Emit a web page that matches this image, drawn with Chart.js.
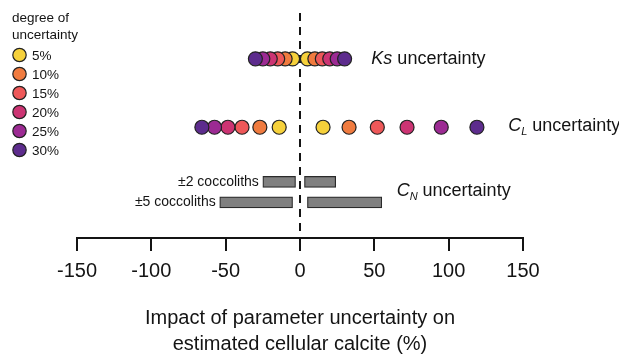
<!DOCTYPE html>
<html>
<head>
<meta charset="utf-8">
<script src="https://cdn.jsdelivr.net/npm/chart.js@4.4.1/dist/chart.umd.min.js"></script>
<style>
  html, body { margin: 0; padding: 0; background: #fff; }
  #wrap { width: 619px; height: 358px; }
</style>
</head>
<body>
<div id="wrap"><canvas id="chart" width="619" height="358"></canvas></div>
<script>
// degree of uncertainty (legend) and its colours
const degrees = ['5%', '10%', '15%', '20%', '25%', '30%'];
const degreeColors = ['#F6D13B', '#F07B3F', '#EE5859', '#CC3473', '#9C2A93', '#5D2C8D'];

// Ks uncertainty: impact (%) for -x and +x
const ksLow  = [-5, -10, -15, -20, -25, -30];
const ksHigh = [5, 10, 15, 20, 25, 30];

// C_L uncertainty
const clLow  = [-14, -27, -39, -48.5, -57.5, -66];
const clHigh = [15.5, 33, 52, 72, 95, 119];

// C_N uncertainty (floating bars: [from, to])
const cnLabels = ['±2 coccoliths', '±5 coccoliths'];
const cnLeft   = [[-25, -3], [-54, -5]];
const cnRight  = [[3, 24], [5, 55]];

const xTicks = [-150, -100, -50, 0, 50, 100, 150];
const axisTitle = ['Impact of parameter uncertainty on', 'estimated cellular calcite (%)'];

// rows on the hidden vertical axis
const rowKs = 1, rowCL = 2, rowCN = [2.8, 3.1];

const FONT = "'Liberation Sans', Arial, sans-serif";
const INK = '#141414';
Chart.defaults.font.family = FONT;
Chart.defaults.color = INK;

function drawParts(ctx, parts, x, y) {
    ctx.textAlign = 'left';
    ctx.textBaseline = 'middle';
    parts.forEach(p => {
        ctx.font = (p.italic ? 'italic ' : '') + (p.size || 18) + 'px ' + FONT;
        ctx.fillText(p.t, x, y + (p.dy || 0));
        x += ctx.measureText(p.t).width;
    });
}

const annotations = {
    id: 'annotations',
    beforeDatasetsDraw(chart) {
        const { ctx, chartArea, scales: { x } } = chart;
        const px = x.getPixelForValue(0);
        ctx.save();
        ctx.strokeStyle = INK;
        ctx.lineWidth = 2;
        ctx.setLineDash([8, 6]);
        ctx.beginPath();
        ctx.moveTo(px, chartArea.top + 2);
        ctx.lineTo(px, chartArea.bottom);
        ctx.stroke();
        ctx.restore();
    },
    afterDatasetsDraw(chart) {
        const { ctx, scales: { x, y } } = chart;
        ctx.save();
        ctx.fillStyle = INK;

        // row labels
        drawParts(ctx, [{ t: 'Ks', italic: true }, { t: ' uncertainty' }],
            x.getPixelForValue(48), y.getPixelForValue(rowKs));
        drawParts(ctx, [{ t: 'C', italic: true }, { t: 'L', italic: true, size: 11, dy: 6 }, { t: ' uncertainty' }],
            x.getPixelForValue(140), y.getPixelForValue(rowCL) - 1);
        drawParts(ctx, [{ t: 'C', italic: true }, { t: 'N', italic: true, size: 11, dy: 6 }, { t: ' uncertainty' }],
            x.getPixelForValue(65), y.getPixelForValue(2.93));

        // coccolith labels, right aligned next to the left bars
        ctx.font = '14px ' + FONT;
        ctx.textAlign = 'right';
        ctx.textBaseline = 'middle';
        cnLabels.forEach((lab, i) => {
            ctx.fillText(lab, x.getPixelForValue(cnLeft[i][0]) - 4, y.getPixelForValue(rowCN[i]));
        });

        // legend
        ctx.font = '13.5px ' + FONT;
        ctx.textAlign = 'left';
        ctx.fillText('degree of', 12, 18);
        ctx.fillText('uncertainty', 12, 35);
        degrees.forEach((d, i) => {
            const cy = 55 + i * 19;
            ctx.beginPath();
            ctx.arc(19.5, cy, 6.7, 0, Math.PI * 2);
            ctx.fillStyle = degreeColors[i];
            ctx.fill();
            ctx.lineWidth = 1.2;
            ctx.strokeStyle = '#222';
            ctx.stroke();
            ctx.fillStyle = INK;
            ctx.fillText(d, 32, cy + 1);
        });
        ctx.restore();
    }
};

const pointSets = degrees.map((d, i) => ({
    type: 'scatter',
    label: d,
    data: [
        { x: ksLow[i], y: rowKs }, { x: ksHigh[i], y: rowKs },
        { x: clLow[i], y: rowCL }, { x: clHigh[i], y: rowCL }
    ],
    pointRadius: 7,
    pointHoverRadius: 7,
    pointBackgroundColor: degreeColors[i],
    pointBorderColor: '#222',
    pointBorderWidth: 1.2,
    order: degrees.length - 1 - i   // larger uncertainty drawn on top
}));

const barSet = {
    type: 'bar',
    label: 'C_N',
    indexAxis: 'y',
    data: cnLeft.map((r, i) => ({ x: r, y: rowCN[i] }))
        .concat(cnRight.map((r, i) => ({ x: r, y: rowCN[i] }))),
    backgroundColor: '#808080',
    borderColor: '#2a2a2a',
    borderWidth: 1.2,
    borderSkipped: false,
    barThickness: 11,
    grouped: false,
    order: 20
};

new Chart(document.getElementById('chart'), {
    type: 'scatter',
    data: { datasets: [barSet, ...pointSets] },
    options: {
        responsive: false,
        animation: false,
        devicePixelRatio: 1,
        layout: { padding: { left: 77, right: 96, top: 11, bottom: 0 } },
        plugins: { legend: { display: false }, tooltip: { enabled: false } },
        scales: {
            x: {
                type: 'linear',
                min: -150,
                max: 150,
                offset: false,
                afterBuildTicks: s => { s.ticks = xTicks.map(v => ({ value: v })); },
                grid: { display: true, offset: false, drawOnChartArea: false, drawTicks: true, tickLength: 13, color: INK, lineWidth: 2 },
                border: { display: true, color: INK, width: 2 },
                ticks: { color: INK, padding: 8, font: { size: 20 } },
                title: {
                    display: true,
                    text: axisTitle,
                    color: INK,
                    font: { size: 20, lineHeight: 1.3 },
                    padding: { top: 14, bottom: 1 }
                }
            },
            y: {
                type: 'linear', min: 0.3, max: 3.62, reverse: true, display: false,
                offset: false, grid: { offset: false }
            }
        }
    },
    plugins: [annotations]
});
</script>
</body>
</html>
